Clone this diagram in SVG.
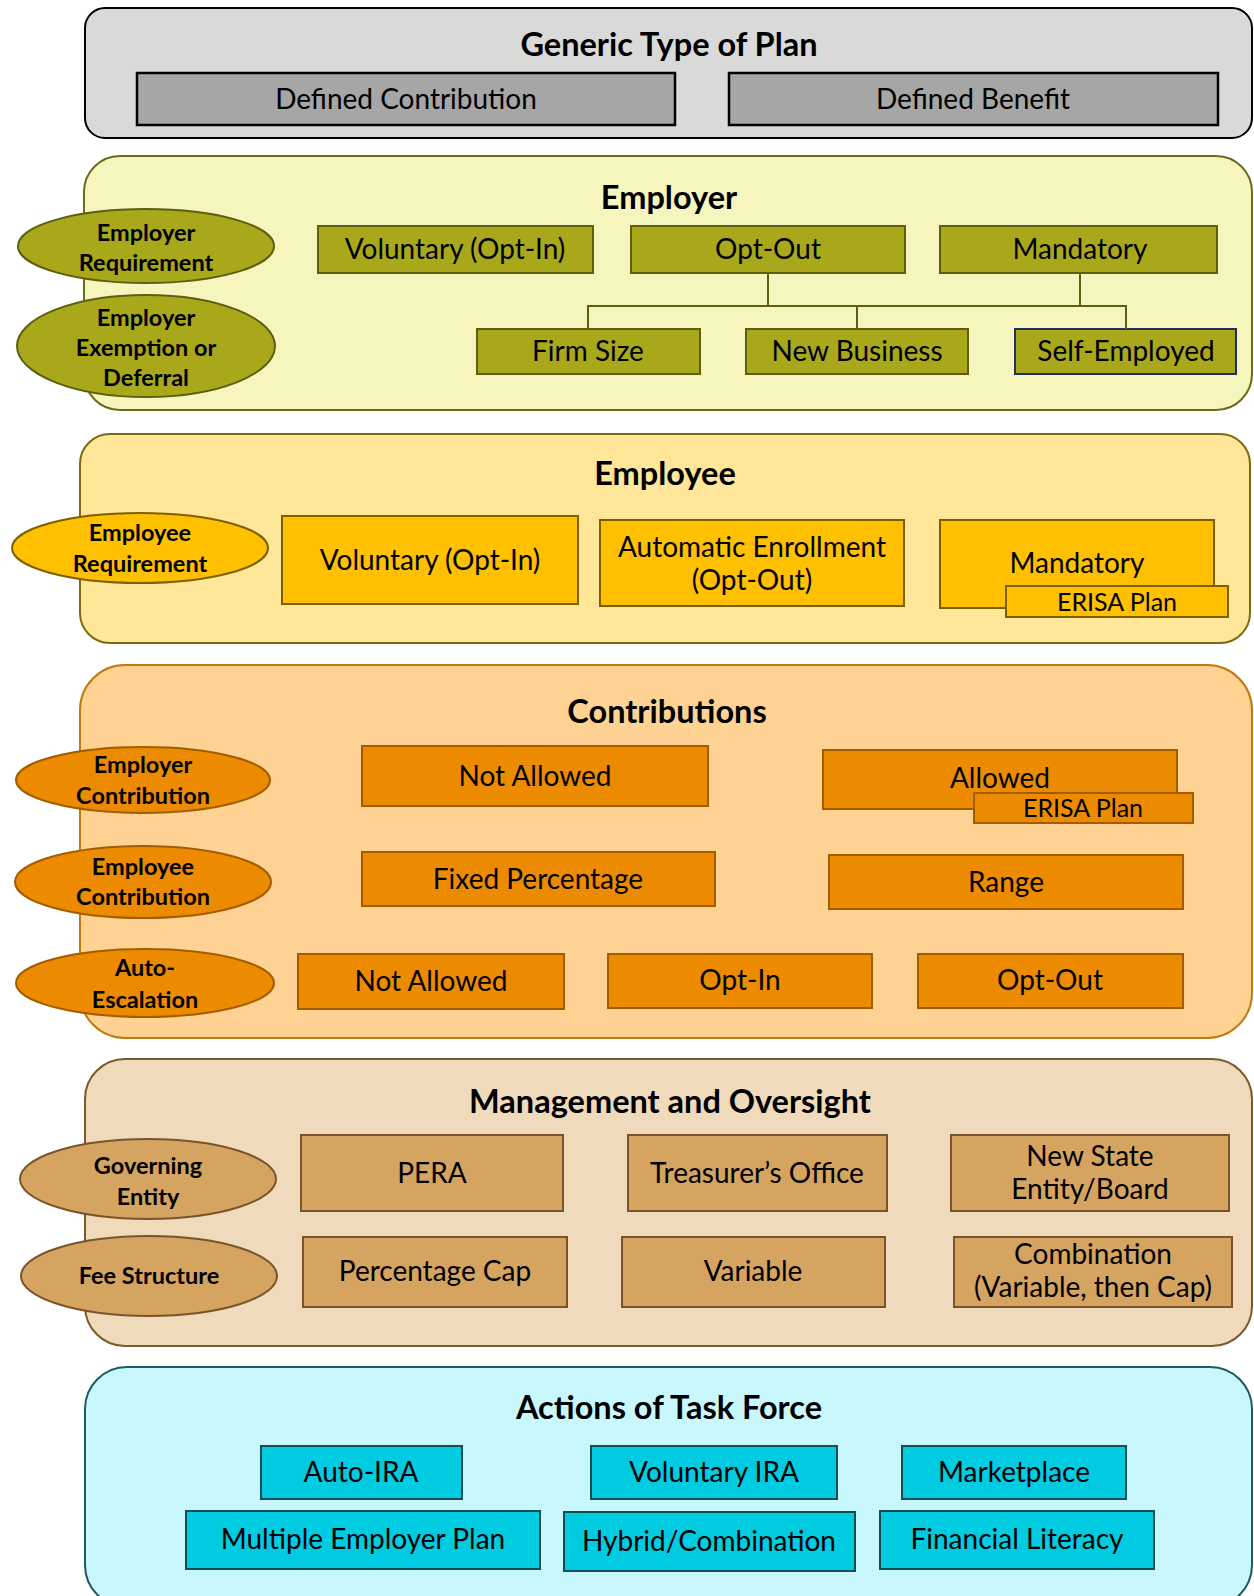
<svg xmlns="http://www.w3.org/2000/svg" width="1254" height="1596" viewBox="0 0 1254 1596">
<style>
text{font-family:Lato,"Open Sans","Liberation Sans",sans-serif;fill:#000;text-anchor:middle;dominant-baseline:central}
.t{font-size:32.5px;font-weight:bold}
.b{font-size:28px}
.s{font-size:25px}
.e{font-size:23.5px;font-weight:bold}
.gen-sec{fill:#d9d9d9;stroke:#000;stroke-width:2}
.gen-box{fill:#a6a6a6;stroke:#000;stroke-width:2.5}
.er-sec{fill:#f5f5bd;stroke:#6b6b18;stroke-width:2}
.er-box{fill:#a8a81a;stroke:#5e5e10;stroke-width:2}
.ee-sec{fill:#ffe699;stroke:#7f6a10;stroke-width:2}
.ee-box{fill:#ffc000;stroke:#7f6000;stroke-width:2}
.co-sec{fill:#fed293;stroke:#c07a10;stroke-width:2}
.co-box{fill:#ed8b00;stroke:#a35c00;stroke-width:2}
.mg-sec{fill:#efdabc;stroke:#7a5a2a;stroke-width:2}
.mg-box{fill:#d4a460;stroke:#7a5428;stroke-width:2}
.ac-sec{fill:#c8f8fd;stroke:#1e5a61;stroke-width:2}
.ac-box{fill:#00cbe0;stroke:#124f55;stroke-width:2}
.conn{fill:none;stroke:#5e5e10;stroke-width:2}
</style>

<g id="sec-generic">
<rect class="gen-sec" x="85" y="8" width="1167" height="130" rx="20"/>
<text class="t" x="669" y="43">Generic Type of Plan</text>
</g>
<g id="n-defined-contribution"><rect class="gen-box" x="137" y="73" width="538" height="52"/><text class="b" x="406" y="98">Defined Contribution</text></g>
<g id="n-defined-benefit"><rect class="gen-box" x="729" y="73" width="489" height="52"/><text class="b" x="973" y="98">Defined Benefit</text></g>

<g id="sec-employer">
<rect class="er-sec" x="84" y="156" width="1168" height="254" rx="36"/>
<text class="t" x="669" y="196">Employer</text>
</g>
<g id="n-employer-requirement"><ellipse class="er-box" cx="146" cy="246" rx="128" ry="37"/><text class="e" x="146" y="232">Employer</text><text class="e" x="146" y="262">Requirement</text></g>
<g id="n-employer-exemption"><ellipse class="er-box" cx="146" cy="346" rx="129" ry="51"/><text class="e" x="146" y="317">Employer</text><text class="e" x="146" y="347">Exemption or</text><text class="e" x="146" y="377">Deferral</text></g>
<g id="n-er-voluntary"><rect class="er-box" x="318" y="226" width="275" height="47"/><text class="b" x="455" y="248">Voluntary (Opt-In)</text></g>
<g id="n-er-optout"><rect class="er-box" x="631" y="226" width="274" height="47"/><text class="b" x="768" y="248">Opt-Out</text></g>
<g id="n-er-mandatory"><rect class="er-box" x="940" y="226" width="277" height="47"/><text class="b" x="1080" y="248">Mandatory</text></g>
<g id="n-firm-size"><rect class="er-box" x="477" y="329" width="223" height="45"/><text class="b" x="588" y="350">Firm Size</text></g>
<g id="n-new-business"><rect class="er-box" x="746" y="329" width="222" height="45"/><text class="b" x="857" y="350">New Business</text></g>
<g id="n-self-employed"><rect class="er-box" x="1015" y="329" width="221" height="45" style="stroke:#1f3060"/><text class="b" x="1126" y="350">Self-Employed</text></g>

<g id="connectors">
<path class="conn" d="M768 273V306M588 329V306H1126V329M857 306V329M1080 273V305"/>
</g>

<g id="sec-employee">
<rect class="ee-sec" x="80" y="434" width="1170" height="209" rx="30"/>
<text class="t" x="665" y="472">Employee</text>
</g>
<g id="n-employee-requirement"><ellipse class="ee-box" cx="140" cy="548" rx="128" ry="35"/><text class="e" x="140" y="532">Employee</text><text class="e" x="140" y="563">Requirement</text></g>
<g id="n-ee-voluntary"><rect class="ee-box" x="282" y="516" width="296" height="88"/><text class="b" x="430" y="559">Voluntary (Opt-In)</text></g>
<g id="n-ee-auto"><rect class="ee-box" x="600" y="520" width="304" height="86"/><text class="b" x="752" y="546">Automatic Enrollment</text><text class="b" x="752" y="579">(Opt-Out)</text></g>
<g id="n-ee-mandatory"><rect class="ee-box" x="940" y="520" width="274" height="88"/><text class="b" x="1077" y="562">Mandatory</text></g>
<g id="n-ee-erisa"><rect class="ee-box" x="1006" y="586" width="222" height="31"/><text class="s" x="1117" y="601">ERISA Plan</text></g>

<g id="sec-contributions">
<rect class="co-sec" x="80" y="665" width="1172" height="373" rx="45"/>
<text class="t" x="667" y="710">Contributions</text>
</g>
<g id="n-employer-contribution"><ellipse class="co-box" cx="143" cy="780" rx="127" ry="33"/><text class="e" x="143" y="764">Employer</text><text class="e" x="143" y="795">Contribution</text></g>
<g id="n-employee-contribution"><ellipse class="co-box" cx="143" cy="882" rx="128" ry="36"/><text class="e" x="143" y="866">Employee</text><text class="e" x="143" y="896">Contribution</text></g>
<g id="n-auto-escalation"><ellipse class="co-box" cx="145" cy="983" rx="129" ry="34"/><text class="e" x="145" y="967">Auto-</text><text class="e" x="145" y="999">Escalation</text></g>
<g id="n-er-not-allowed"><rect class="co-box" x="362" y="746" width="346" height="60"/><text class="b" x="535" y="775">Not Allowed</text></g>
<g id="n-er-allowed"><rect class="co-box" x="823" y="750" width="354" height="59"/><text class="b" x="1000" y="777">Allowed</text></g>
<g id="n-co-erisa"><rect class="co-box" x="974" y="793" width="219" height="30"/><text class="s" x="1083" y="807">ERISA Plan</text></g>
<g id="n-fixed-percentage"><rect class="co-box" x="362" y="852" width="353" height="54"/><text class="b" x="538" y="878">Fixed Percentage</text></g>
<g id="n-range"><rect class="co-box" x="829" y="855" width="354" height="54"/><text class="b" x="1006" y="881">Range</text></g>
<g id="n-ae-not-allowed"><rect class="co-box" x="298" y="954" width="266" height="55"/><text class="b" x="431" y="980">Not Allowed</text></g>
<g id="n-ae-optin"><rect class="co-box" x="608" y="954" width="264" height="54"/><text class="b" x="740" y="979">Opt-In</text></g>
<g id="n-ae-optout"><rect class="co-box" x="918" y="954" width="265" height="54"/><text class="b" x="1050" y="979">Opt-Out</text></g>

<g id="sec-management">
<rect class="mg-sec" x="85" y="1059" width="1167" height="287" rx="40"/>
<text class="t" x="670" y="1100">Management and Oversight</text>
</g>
<g id="n-governing-entity"><ellipse class="mg-box" cx="148" cy="1179" rx="128" ry="40"/><text class="e" x="148" y="1165">Governing</text><text class="e" x="148" y="1196">Entity</text></g>
<g id="n-fee-structure"><ellipse class="mg-box" cx="149" cy="1276" rx="128" ry="40"/><text class="e" x="149" y="1275">Fee Structure</text></g>
<g id="n-pera"><rect class="mg-box" x="301" y="1135" width="262" height="76"/><text class="b" x="432" y="1172">PERA</text></g>
<g id="n-treasurer"><rect class="mg-box" x="628" y="1135" width="259" height="76"/><text class="b" x="757" y="1172">Treasurer’s Office</text></g>
<g id="n-new-state"><rect class="mg-box" x="951" y="1135" width="278" height="76"/><text class="b" x="1090" y="1155">New State</text><text class="b" x="1090" y="1188">Entity/Board</text></g>
<g id="n-percentage-cap"><rect class="mg-box" x="303" y="1237" width="264" height="70"/><text class="b" x="435" y="1270">Percentage Cap</text></g>
<g id="n-variable"><rect class="mg-box" x="622" y="1237" width="263" height="70"/><text class="b" x="753" y="1270">Variable</text></g>
<g id="n-combination"><rect class="mg-box" x="954" y="1237" width="278" height="70"/><text class="b" x="1093" y="1253">Combination</text><text class="b" x="1093" y="1286">(Variable, then Cap)</text></g>

<g id="sec-actions">
<rect class="ac-sec" x="85" y="1367" width="1167" height="240" rx="42"/>
<text class="t" x="669" y="1406">Actions of Task Force</text>
</g>
<g id="n-auto-ira"><rect class="ac-box" x="261" y="1446" width="201" height="53"/><text class="b" x="361" y="1471">Auto-IRA</text></g>
<g id="n-voluntary-ira"><rect class="ac-box" x="591" y="1446" width="246" height="53"/><text class="b" x="714" y="1471">Voluntary IRA</text></g>
<g id="n-marketplace"><rect class="ac-box" x="902" y="1446" width="224" height="53"/><text class="b" x="1014" y="1471">Marketplace</text></g>
<g id="n-mep"><rect class="ac-box" x="186" y="1511" width="354" height="58"/><text class="b" x="363" y="1538">Multiple Employer Plan</text></g>
<g id="n-hybrid"><rect class="ac-box" x="564" y="1512" width="291" height="59"/><text class="b" x="709" y="1540">Hybrid/Combination</text></g>
<g id="n-fin-lit"><rect class="ac-box" x="880" y="1511" width="274" height="58"/><text class="b" x="1017" y="1538">Financial Literacy</text></g>
</svg>
